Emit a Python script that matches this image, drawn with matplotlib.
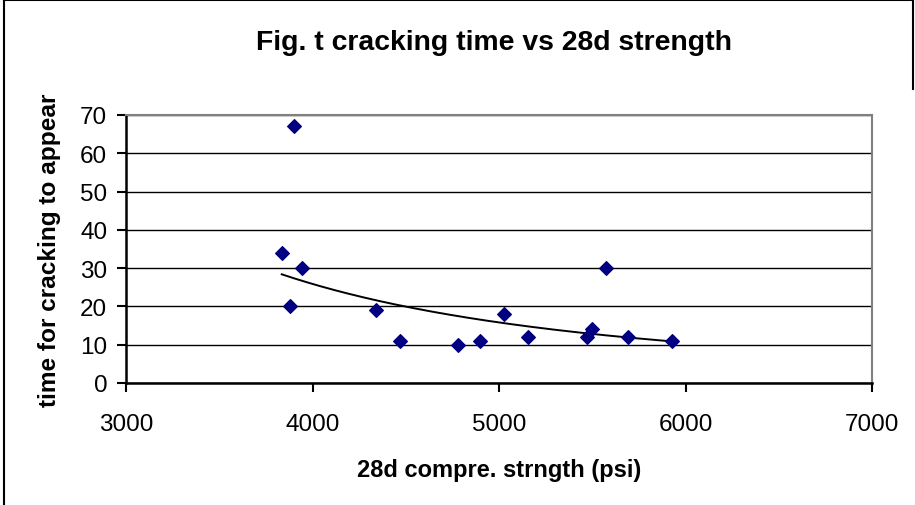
import numpy as np
import matplotlib
matplotlib.use("Agg")
from matplotlib import pyplot as plt
from matplotlib.lines import Line2D

# 28d strength (psi) and time for cracking to appear
strength = [3899, 3835, 3942, 3878, 4339, 4469, 4778, 4896, 5025,
            5156, 5474, 5497, 5572, 5692, 5928]
crack_time = [67, 34, 30, 20, 19, 11, 10, 11, 18,
              12, 12, 14, 30, 12, 11]

x_ticks = [3000, 4000, 5000, 6000, 7000]
y_ticks = [0, 10, 20, 30, 40, 50, 60, 70]

plt.rcParams['font.family'] = ['Liberation Sans', 'DejaVu Sans']

fig = plt.figure(figsize=(9.15, 5.06), dpi=100)
ax = fig.add_axes([126 / 915, 122 / 506, 746 / 915, 268 / 506])

# power trendline (as excel does it)
xs = np.array(strength, dtype=float)
ys = np.array(crack_time, dtype=float)
b, log_a = np.polyfit(np.log(xs), np.log(ys), 1)
xt = np.linspace(xs.min(), xs.max(), 200)
ax.plot(xt, np.exp(log_a) * xt ** b, color="black", lw=1.4, zorder=3)

ax.scatter(strength, crack_time, marker="D", s=48, color="#000080",
           edgecolors="#000080", zorder=4)

ax.set_xlim(3000, 7000)
ax.set_ylim(0, 70)
ax.set_xticks(x_ticks)
ax.set_yticks(y_ticks)
ax.yaxis.grid(True, color="black", lw=1.0)
ax.set_axisbelow(True)

for side in ["top", "right"]:
    ax.spines[side].set_color("#808080")
    ax.spines[side].set_linewidth(1.5)
for side in ["left", "bottom"]:
    ax.spines[side].set_color("black")
    ax.spines[side].set_linewidth(1.8)

ax.tick_params(direction="out", length=6.5, width=1.5, labelsize=17.5)
ax.tick_params(axis="x", pad=15)
ax.tick_params(axis="y", pad=7)

ax.set_xlabel("28d compre. strngth (psi)", fontsize=17, fontweight="bold", va="center")
ax.xaxis.set_label_coords(0.5, -(471 - 384) / 268)
ax.set_ylabel("time for cracking to appear", fontsize=17.6, fontweight="bold", va="center")
ax.yaxis.set_label_coords((49.5 - 126) / 746, 0.5)
fig.text(494.5 / 915, 1 - 43 / 506, "Fig. t cracking time vs 28d strength",
         ha="center", va="center", fontsize=20.4, fontweight="bold")

# chart frame
fig.add_artist(Line2D([4 / 915, 4 / 915], [0, 1 - 1 / 506], transform=fig.transFigure, color="black", lw=1.5))
fig.add_artist(Line2D([4 / 915, 913 / 915], [1 - 1 / 506, 1 - 1 / 506], transform=fig.transFigure, color="black", lw=1.5))
fig.add_artist(Line2D([913 / 915, 913 / 915], [1 - 90 / 506, 1 - 1 / 506], transform=fig.transFigure, color="black", lw=1.5))

fig.savefig("out.png", dpi=100)
